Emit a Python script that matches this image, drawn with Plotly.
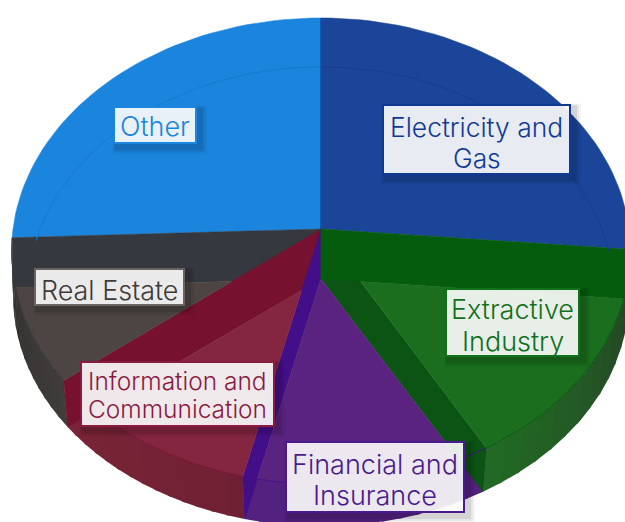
import math
import plotly.graph_objects as go

# --- data ---
categories = ["Electricity and Gas", "Extractive Industry", "Financial and Insurance",
              "Information and Communication", "Real Estate", "Other"]
shares = [26.4, 15.4, 11.9, 10.7, 10.0, 25.6]
label_lines = [["Electricity and", "Gas"], ["Extractive", "Industry"], ["Financial and", "Insurance"],
               ["Information and", "Communication"], ["Real Estate"], ["Other"]]
# --- styles ---
face = ["#1a4599", "#1b6e1e", "#59237f", "#842640", "#4c4543", "#1b85de"]
dark = ["#1a4599", "#045c0c", "#430f88", "#76122f", "#35383e", "#1b85de"]
wall_a = ["#1a4599", "#263f26", "#53217f", "#702034", "#302f2d", "#1b85de"]
wall_b = ["#1a4599", "#216b24", "#53217f", "#7a2538", "#403d3b", "#1b85de"]
text_col = ["#0e3a96", "#11701a", "#4a1a8f", "#8a1a3f", "#403a38", "#1a86e0"]
border = ["#0e3a96", "#11701a", "#4a1a8f", "#8a1a3f", "#6b6562", "#1a86e0"]
font_px = [26.4, 27, 27, 24.5, 26.9, 27]
boxes = [(382, 104, 571, 175), (445, 288, 580, 357), (285, 441, 465, 513),
         (80, 361, 275, 427), (34, 268, 185, 306), (113, 106, 197, 144)]
line_y = [[127, 158], [309, 341], [464, 495], [381, 409], [290], [126]]
W, H = 625, 522
CX = 321

PLANE_A = dict(y0=229, k=0.0944, g=231.0, f=308.0)
PLANE_B = dict(y0=279, k=0.0763, g=228.3, f=307.0)

def proj(theta, p):
    t = math.radians(theta)
    X, Y = math.sin(t), math.cos(t)
    d = 1 + p["k"] * Y
    return CX + p["f"] * X / d, p["y0"] - p["g"] * Y / d

def arc(t0, t1, p, n=48):
    return [proj(t0 + (t1 - t0) * i / n, p) for i in range(n + 1)]

def wedge(t0, t1, p):
    return [(CX, p["y0"])] + arc(t0, t1, p)

def clip(subject, convex):
    area = sum(convex[i][0] * convex[(i + 1) % len(convex)][1] -
               convex[(i + 1) % len(convex)][0] * convex[i][1] for i in range(len(convex)))
    sgn = 1 if area > 0 else -1
    def inside(q, a, b):
        return sgn * ((b[0] - a[0]) * (q[1] - a[1]) - (b[1] - a[1]) * (q[0] - a[0])) >= 0
    def hit(p, q, a, b):
        d1 = (q[0] - p[0], q[1] - p[1]); d2 = (b[0] - a[0], b[1] - a[1])
        den = d1[0] * d2[1] - d1[1] * d2[0]
        s = ((a[0] - p[0]) * d2[1] - (a[1] - p[1]) * d2[0]) / den
        return (p[0] + s * d1[0], p[1] + s * d1[1])
    out = subject
    for i in range(len(convex)):
        a, b = convex[i], convex[(i + 1) % len(convex)]
        src, out = out, []
        for j in range(len(src)):
            c, nxt = src[j], src[(j + 1) % len(src)]
            if inside(c, a, b):
                out.append(c)
                if not inside(nxt, a, b):
                    out.append(hit(c, nxt, a, b))
            elif inside(nxt, a, b):
                out.append(hit(c, nxt, a, b))
        if not out:
            break
    return out

def mix(c1, c2, s):
    a = [int(c1[i:i + 2], 16) for i in (1, 3, 5)]
    b = [int(c2[i:i + 2], 16) for i in (1, 3, 5)]
    return "rgb(%d,%d,%d)" % tuple(round(a[i] + (b[i] - a[i]) * s) for i in range(3))

fig = go.Figure()

def poly(pts, color, name, lw=0.5):
    fig.add_trace(go.Scatter(x=[q[0] for q in pts] + [pts[0][0]], y=[q[1] for q in pts] + [pts[0][1]],
                             mode="lines", fill="toself", fillcolor=color,
                             line=dict(color=color, width=lw), name=name,
                             hoverinfo="skip", showlegend=False))

def line(pts, color, width):
    fig.add_trace(go.Scatter(x=[q[0] for q in pts], y=[q[1] for q in pts], mode="lines",
                             line=dict(color=color, width=width), hoverinfo="skip", showlegend=False))

bounds = [0]
for v in shares:
    bounds.append(bounds[-1] + v * 3.6)

# back faces
for i in (5, 0):
    poly(wedge(bounds[i], bounds[i + 1], PLANE_A), face[i], categories[i])

# outer walls of the front slices (small overlap hides the seams)
for i in (1, 2, 3, 4):
    t0, t1 = bounds[i], bounds[i + 1]
    segs = 14
    for s in range(segs):
        a, b = t0 + (t1 - t0) * s / segs, t0 + (t1 - t0) * (s + 1) / segs
        if s < segs - 1:
            b += 0.6
        u = (s + 0.5) / segs
        col = mix(wall_a[i], wall_b[i], 1 - u if i == 4 else u)
        poly(arc(a, b, PLANE_A, 4) + arc(b, a, PLANE_B, 4), col, categories[i], 0)

# radial walls: boundary index -> owning slice
for b_idx, owner in ((5, 4), (4, 3), (3, 2), (2, 1), (1, 1)):
    t = bounds[b_idx]
    poly([(CX, PLANE_A["y0"]), proj(t, PLANE_A), proj(t, PLANE_B), (CX, PLANE_B["y0"])],
         "#0b5413" if b_idx == 2 else dark[owner], categories[owner])

# lighter floor faces
for i in (1, 2, 3, 4):
    t0, t1 = bounds[i], bounds[i + 1]
    poly(clip(wedge(t0, t1, PLANE_A), wedge(t0, t1, PLANE_B)), face[i], categories[i])

# rim lines
for i in (1, 2, 3, 4):
    line(arc(bounds[i], bounds[i + 1], PLANE_A), dark[i], 1)
BACK = dict(PLANE_B, f=293.0)
line(arc(bounds[5] + 12, 360, BACK), "#1878cc", 1)
line(arc(0, bounds[1] - 12, BACK), "#163d8e", 1)
line([(CX, PLANE_A["y0"]), proj(0, PLANE_A)], "#0f4fa6", 1.5)

# label boxes
shapes = []
annos = []
for i in range(len(categories)):
    x0, y0, x1, y1 = boxes[i]
    for grow, alpha in ((7, 0.04), (5, 0.06), (3, 0.08)):
        shapes.append(dict(type="rect", xref="x", yref="y", layer="above",
                           x0=x0 + 3 - grow / 2, x1=x1 + 3 + grow, y0=y0 + 3 - grow / 2, y1=y1 + 3 + grow,
                           fillcolor="rgba(0,0,0,%g)" % alpha, line=dict(width=0)))
    shapes.append(dict(type="rect", xref="x", yref="y", layer="above", x0=x0 + 1, x1=x1 - 1, y0=y0 + 1, y1=y1 - 1,
                       fillcolor="rgba(255,255,255,0.9)", line=dict(color=border[i], width=2)))
    for txt, yc in zip(label_lines[i], line_y[i]):
        annos.append(dict(xref="x", yref="y", x=(x0 + x1) / 2, y=yc, text=txt,
                          showarrow=False, xanchor="center", yanchor="middle", align="center",
                          font=dict(family="Inter, Noto Sans, sans-serif", size=font_px[i], color=text_col[i],
                                    weight=300)))

fig.update_layout(width=W, height=H, margin=dict(l=0, r=0, t=0, b=0),
                  paper_bgcolor="white", plot_bgcolor="white", showlegend=False,
                  xaxis=dict(range=[0, W], visible=False, fixedrange=True),
                  yaxis=dict(range=[H, 0], visible=False, fixedrange=True),
                  shapes=shapes, annotations=annos)
fig.write_html("out.html", config=dict(displayModeBar=False),
               post_script="document.body.style.margin='0';document.documentElement.style.overflow='hidden';")
